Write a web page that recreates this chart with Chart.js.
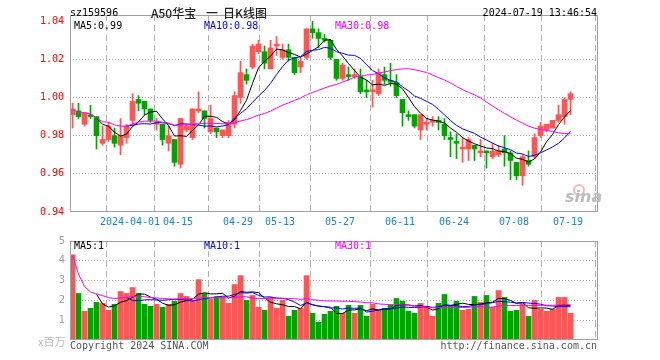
<!DOCTYPE html>
<html><head><meta charset="utf-8">
<script src="https://cdn.jsdelivr.net/npm/chart.js@4.4.1/dist/chart.umd.min.js"></script>
<style>
body{margin:0;width:660px;height:360px;background:#fff;position:relative;overflow:hidden}
canvas{position:absolute;left:0}
.t{position:absolute;white-space:nowrap;font-family:"DejaVu Sans Mono",monospace;font-size:10px;line-height:12px;height:12px}
.c{position:absolute;white-space:nowrap;font-family:"Noto Sans CJK SC",sans-serif;font-size:12px;line-height:14px;height:14px;color:#222;font-weight:500}
</style></head><body>
<canvas id="k" width="660" height="230" style="top:0"></canvas>
<canvas id="v" width="660" height="130" style="top:230px"></canvas>

<div class="t" style="left:70px;top:7px;color:#000">sz159596</div>
<div class="c" style="left:151px;top:6px">A50华宝</div>
<div class="c" style="left:206px;top:6px">一</div>
<div class="c" style="left:223px;top:6px">日K线图</div>
<div class="t" style="right:63px;top:7px;color:#000">2024-07-19 13:46:54</div>

<div class="t" style="left:74px;top:20px;color:#000">MA5:0.99</div>
<div class="t" style="left:204px;top:20px;color:#0000ff">MA10:0.98</div>
<div class="t" style="left:335px;top:20px;color:#ff00ff">MA30:0.98</div>

<div class="t" style="left:74px;top:240px;color:#000">MA5:1</div>
<div class="t" style="left:204px;top:240px;color:#0000ff">MA10:1</div>
<div class="t" style="left:335px;top:240px;color:#ff00ff">MA30:1</div>

<div class="c" style="left:38px;top:334px;color:#bbb;font-size:11px;font-weight:400">x百万</div>
<div class="t" style="left:70px;top:340px;color:#555">Copyright 2024 SINA.COM</div>
<div class="t" style="right:63px;top:340px;color:#555">http://finance.sina.com.cn</div>

<div style="position:absolute;left:573px;top:184px;width:8px;height:8px;border:2px solid #f3b8b8;border-radius:50%"></div>
<div style="position:absolute;left:565px;top:188px;font:italic bold 16px 'DejaVu Sans',sans-serif;color:#bdbdbd;line-height:18px">sina</div>

<script>
const dates = ['03-18','03-19','03-20','03-21','03-22','03-25','03-26','03-27','03-28','03-29',
'04-01','04-02','04-03','04-08','04-09','04-10','04-11','04-12',
'04-15','04-16','04-17','04-18','04-19','04-22','04-23','04-24','04-25','04-26',
'04-29','04-30',
'05-06','05-07','05-08','05-09','05-10',
'05-13','05-14','05-15','05-16','05-17','05-20','05-21','05-22','05-23','05-24',
'05-27','05-28','05-29','05-30','05-31',
'06-03','06-04','06-05','06-06','06-07',
'06-11','06-12','06-13','06-14','06-17','06-18','06-19','06-20','06-21',
'06-24','06-25','06-26','06-27','06-28',
'07-01','07-02','07-03','07-04','07-05',
'07-08','07-09','07-10','07-11','07-12',
'07-15','07-16','07-17','07-18','07-19'];

const open  = [0.991,0.993,0.986,0.991,0.990,0.976,0.978,0.980,0.975,0.979,
0.988,0.999,0.998,0.994,0.986,0.986,0.976,0.978,0.965,0.983,
0.979,0.993,0.993,0.982,0.984,0.980,0.980,0.986,1.000,1.012,
1.016,1.024,1.024,1.015,1.027,1.021,1.025,1.021,1.016,1.021,
1.036,1.034,1.031,1.030,1.020,1.010,1.012,1.011,1.011,1.004,
1.003,1.002,1.012,1.009,1.008,0.999,0.991,0.991,0.983,0.986,
0.987,0.988,0.986,0.979,0.977,0.973,0.973,0.975,0.971,0.972,
0.969,0.970,0.973,0.971,0.966,0.959,0.967,0.969,0.980,0.983,
0.984,0.988,0.990,0.999];
const high  = [0.997,0.997,0.992,0.996,0.990,0.985,0.987,0.984,0.989,0.986,
1.002,1.001,0.998,0.994,0.989,0.986,0.985,0.978,0.989,0.986,
0.994,1.003,0.993,0.996,0.984,0.983,0.988,1.003,1.019,1.015,
1.028,1.030,1.027,1.030,1.032,1.028,1.028,1.021,1.021,1.036,
1.040,1.036,1.033,1.030,1.020,1.018,1.016,1.015,1.015,1.009,
1.009,1.015,1.016,1.018,1.012,0.999,0.993,0.991,0.991,0.989,
0.990,0.990,0.989,0.982,0.981,0.979,0.979,0.975,0.978,0.972,
0.976,0.975,0.980,0.972,0.966,0.970,0.972,0.981,0.987,0.986,
0.988,0.996,1.000,1.003];
const low   = [0.984,0.989,0.985,0.989,0.973,0.975,0.977,0.974,0.970,0.976,
0.985,0.993,0.991,0.987,0.983,0.975,0.972,0.964,0.963,0.982,
0.978,0.992,0.984,0.981,0.979,0.979,0.979,0.984,0.997,1.007,
1.015,1.023,1.015,1.015,1.022,1.020,1.019,1.012,1.013,1.020,
1.031,1.026,1.029,1.020,1.009,1.009,1.009,1.010,1.002,1.000,
0.995,1.001,1.007,1.006,1.000,0.985,0.988,0.984,0.978,0.983,
0.985,0.983,0.978,0.969,0.968,0.966,0.967,0.967,0.969,0.963,
0.968,0.969,0.964,0.957,0.957,0.954,0.964,0.968,0.979,0.982,
0.984,0.987,0.986,0.991];
const close = [0.994,0.990,0.992,0.990,0.980,0.978,0.985,0.976,0.980,0.985,
0.998,0.997,0.994,0.988,0.987,0.978,0.980,0.966,0.989,0.985,
0.994,0.994,0.989,0.989,0.982,0.983,0.987,1.001,1.013,1.009,
1.027,1.028,1.018,1.026,1.028,1.025,1.021,1.013,1.019,1.036,
1.034,1.031,1.030,1.021,1.010,1.017,1.011,1.012,1.003,1.003,
1.004,1.013,1.009,1.008,1.001,0.992,0.990,0.985,0.991,0.987,
0.988,0.987,0.980,0.978,0.976,0.974,0.978,0.973,0.972,0.971,
0.972,0.972,0.971,0.967,0.959,0.969,0.965,0.979,0.985,0.986,
0.988,0.991,0.999,1.002];
const volume = [4.30,2.35,1.45,1.60,1.90,1.85,1.50,1.80,2.45,2.35,
2.65,2.35,1.80,1.70,1.80,1.65,1.80,1.95,2.35,2.20,
2.00,3.05,2.35,2.05,2.20,2.15,1.85,2.80,3.25,2.00,
2.25,1.65,1.50,2.15,1.60,2.00,1.20,1.50,1.60,3.25,
1.35,0.90,1.30,1.45,1.70,1.35,1.75,1.35,1.75,1.20,
1.80,1.50,1.60,1.75,2.10,1.95,1.45,1.35,1.85,1.70,
1.20,1.85,2.30,1.70,1.95,1.50,1.55,2.20,1.90,2.25,
1.65,2.50,2.15,1.45,1.50,1.85,1.20,2.00,1.55,1.45,
1.55,2.15,2.15,1.35];

const tickDates  = ['04-01','04-15','04-29','05-13','05-27','06-11','06-24','07-08','07-19'];
const tickLabels = ['2024-04-01','04-15','04-29','05-13','05-27','06-11','06-24','07-08','07-19'];
const priceTicks = [0.94,0.96,0.98,1.00,1.02,1.04];
const volTicks   = [1,2,3,4,5];

const RED = '#ff5555', GREEN = '#00a400';
const cols = close.map((c,i)=> c >= open[i] ? RED : GREEN);

function movingAvg(arr, n, cumulativeStart){
  return arr.map((_, i) => {
    if (i < n-1 && !cumulativeStart) return null;
    const s = arr.slice(Math.max(0, i-n+1), i+1);
    return s.reduce((a,b)=>a+b,0)/s.length;
  });
}
const pt = a => a.map((y,i)=>({x:i, y:y}));

const SLOT = 6, HALF = 2.5/SLOT;
const xMin = -HALF, xMax = -HALF + 528/SLOT;
const tickIdx = tickDates.map(d => dates.indexOf(d));

function xScale(showLabels, h){
  return {
    type:'linear', min:xMin, max:xMax, offset:false,
    afterBuildTicks: s => { s.ticks = tickIdx.map(i => ({value: i - HALF})); },
    afterFit: s => { s.height = h; },
    ticks:{display:showLabels, autoSkip:false, maxRotation:0, padding:4, color:'#1a84cc',
      font:{family:'DejaVu Sans Mono', size:10},
      callback:(v, idx) => tickLabels[idx]},
    grid:{color:'#b0b0b0', lineWidth:1, drawTicks:false, borderDash:[6,4]},
    border:{display:false, dash:[6,4]}
  };
}
const box = {id:'box', afterDatasetsDraw(c){
  const {ctx, chartArea:a} = c; ctx.save(); ctx.strokeStyle='#a0a0a0'; ctx.lineWidth=1;
  ctx.strokeRect(a.left+0.5, a.top+0.5, a.right-a.left-1, a.bottom-a.top-1); ctx.restore(); }};

const lineDs = (data, color) => ({type:'line', data:pt(data), borderColor:color, borderWidth:1,
  pointRadius:0, tension:0, order:0, spanGaps:false});

const barCommon = {barPercentage:1, categoryPercentage:1, grouped:false, borderWidth:0};

new Chart(document.getElementById('k'), {
  type:'bar',
  data:{datasets:[
    Object.assign({data: low.map((l,i)=>({x:i, y:[l, high[i]]})), backgroundColor:cols, maxBarThickness:1, minBarLength:1, order:2}, barCommon),
    Object.assign({data: open.map((o,i)=>({x:i, y:[o, close[i]]})), backgroundColor:cols, maxBarThickness:5, minBarLength:1, order:1}, barCommon),
    lineDs(movingAvg(close,30,true), '#ff00ff'),
    lineDs(movingAvg(close,10,false), '#0000ff'),
    lineDs(movingAvg(close,5,false), '#000000')
  ]},
  options:{
    responsive:false, animation:false, devicePixelRatio:1, events:[],
    layout:{padding:{left:0, right:62, top:15, bottom:0}},
    plugins:{legend:{display:false}, tooltip:{enabled:false}},
    scales:{
      x: xScale(true, 18),
      y:{type:'linear', min:0.94, max:1.04325, position:'left',
        afterFit: s => { s.width = 70; },
        afterBuildTicks: s => { s.ticks = priceTicks.map(v=>({value:v})); },
        ticks:{color:'#ff0000', padding:6, font:{family:'DejaVu Sans Mono', size:10}, callback:v=>Number(v).toFixed(2)},
        grid:{drawTicks:false, lineWidth:1, borderDash:[1,2],
          color: ctx => { const v = ctx.tick ? ctx.tick.value : 0; return (v > 0.95 && v < 1.03) ? '#a8a8a8' : 'rgba(0,0,0,0)'; }},
        border:{display:false, dash:[1,2]}}
    }
  },
  plugins:[box]
});

new Chart(document.getElementById('v'), {
  type:'bar',
  data:{datasets:[
    Object.assign({data: pt(volume), backgroundColor:cols, maxBarThickness:5, order:1}, barCommon),
    lineDs(movingAvg(volume,30,true), '#ff00ff'),
    lineDs(movingAvg(volume,10,false), '#0000ff'),
    lineDs(movingAvg(volume,5,false), '#000000')
  ]},
  options:{
    responsive:false, animation:false, devicePixelRatio:1, events:[],
    layout:{padding:{left:0, right:62, top:10, bottom:0}},
    plugins:{legend:{display:false}, tooltip:{enabled:false}},
    scales:{
      x: xScale(false, 20),
      y:{type:'linear', min:0, max:5, position:'left',
        afterFit: s => { s.width = 70; },
        afterBuildTicks: s => { s.ticks = volTicks.map(v=>({value:v})); },
        ticks:{color:'#a0a0a0', padding:5, font:{family:'DejaVu Sans', size:10}, callback:v=>String(v)},
        grid:{drawTicks:false, lineWidth:1, borderDash:[1,2],
          color: ctx => { const v = ctx.tick ? ctx.tick.value : 0; return (v > 0.5 && v < 4.5) ? '#a8a8a8' : 'rgba(0,0,0,0)'; }},
        border:{display:false, dash:[1,2]}}
    }
  },
  plugins:[box]
});
</script>
</body></html>
